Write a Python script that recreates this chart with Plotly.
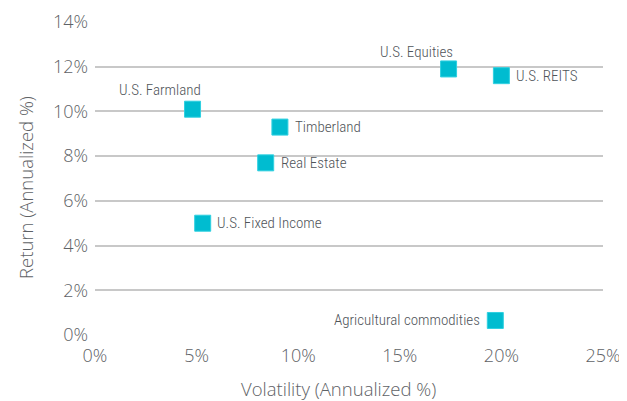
import plotly.graph_objects as go

names = ["U.S. Farmland", "Timberland", "Real Estate", "U.S. Equities",
         "U.S. REITS", "U.S. Fixed Income", "Agricultural commodities"]
volatility = [4.8, 9.1, 8.4, 17.4, 20.0, 5.3, 19.7]
returns = [10.1, 9.3, 7.7, 11.9, 11.6, 5.0, 0.65]
x_ticks = [0, 5, 10, 15, 20, 25]
y_ticks = [0, 2, 4, 6, 8, 10, 12, 14]

# label placement per point: (xanchor, yanchor, xshift, yshift)
placement = {
    "U.S. Farmland": ("right", "bottom", 10, 8),
    "Timberland": ("left", "middle", 13, 0),
    "Real Estate": ("left", "middle", 13, 0),
    "U.S. Equities": ("right", "bottom", 6, 6),
    "U.S. REITS": ("left", "middle", 13, 0),
    "U.S. Fixed Income": ("left", "middle", 12, 0),
    "Agricultural commodities": ("right", "middle", -13, 0),
}

label_font = dict(family="Roboto Condensed, sans-serif", size=15, color="#4f5459", weight=300)
tick_font = dict(family="Open Sans, sans-serif", size=18, color="#5e6266", weight=300)
title_font = dict(family="Open Sans, sans-serif", size=18.5, color="#5e6266", weight=300)

fig = go.Figure()
fig.add_trace(go.Scatter(
    x=volatility, y=returns, mode="markers",
    marker=dict(symbol="square", size=16, color="#00bcd0",
                line=dict(width=1, color="#2fd0e0")),
    hoverinfo="text", text=names, showlegend=False,
))

for n, xv, yv in zip(names, volatility, returns):
    xa, ya, xs, ys = placement[n]
    fig.add_annotation(x=xv, y=yv, text=n, showarrow=False,
                       xanchor=xa, yanchor=ya, xshift=xs, yshift=ys,
                       font=label_font)

# axis titles
fig.add_annotation(xref="paper", yref="paper", x=0.48, y=0, yshift=-53,
                   xanchor="center", yanchor="middle", showarrow=False,
                   text="Volatility (Annualized %)", font=title_font)
fig.add_annotation(xref="paper", yref="paper", x=0, xshift=-69, y=0.47,
                   xanchor="center", yanchor="middle", showarrow=False,
                   textangle=-90, text="Return (Annualized %)", font=title_font)

fig.update_layout(
    width=619, height=393,
    margin=dict(l=87, r=24, t=14, b=66),
    plot_bgcolor="white", paper_bgcolor="white",
    xaxis=dict(range=[0, 25], tickvals=x_ticks,
               ticktext=[f"{v}%" for v in x_ticks],
               showgrid=False, zeroline=False, showline=False,
               tickfont=tick_font, ticks="", automargin=False,
               ticklabelstandoff=8),
    yaxis=dict(range=[0, 14], tickvals=y_ticks,
               ticktext=[f"{v}%" for v in y_ticks],
               showgrid=True, gridcolor="#c8c8c8", gridwidth=1.5,
               zeroline=False, showline=False, automargin=False,
               tickfont=tick_font, ticks="", ticklabelstandoff=6),
)

fig.write_html("out.html")
